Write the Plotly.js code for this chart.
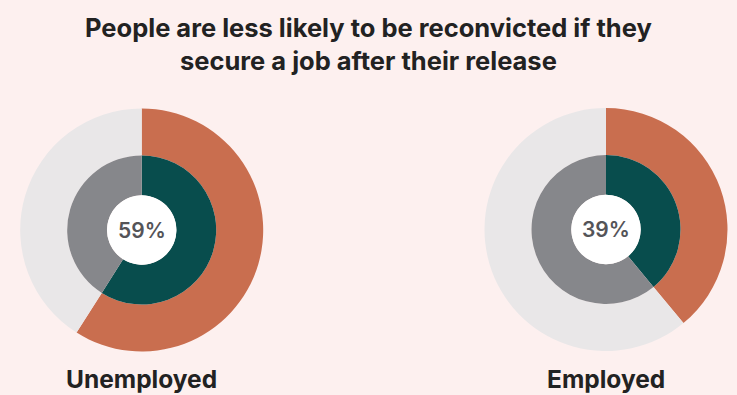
<!DOCTYPE html>
<html>
<head>
<meta charset="utf-8">
<script src="https://cdn.plot.ly/plotly-3.0.1.min.js"></script>
<style>
html,body{margin:0;padding:0;background:#FDF0EF;}
#chart{width:737px;height:395px;}
</style>
</head>
<body>
<div id="chart"></div>
<script>
// Data
const groups = ['Unemployed', 'Employed'];
const outerPct = [59, 39];   // outer ring share (%)
const innerPct = [59, 39];   // inner ring share (%)
const centerLabels = ['59%', '39%'];
const chartTitle = 'People are less likely to be reconvicted if they<br>secure a job after their release';

// Layout geometry (pixels)
const W = 737, H = 395;
const centers = [[141.7, 230], [606, 229.5]];
const rOuter = 121.5, rInner = 74.5, rHole = 34.7;

const C = {
  bg: '#FDF0EF', orange: '#C96E4F', lightgray: '#E9E7E8',
  teal: '#084D4D', gray: '#86878B', white: '#FFFFFF'
};

function domainFor(c, r) {
  return {
    x: [(c[0] - r) / W, (c[0] + r) / W],
    y: [(H - c[1] - r) / H, (H - c[1] + r) / H]
  };
}

const traces = [];
const annotations = [];
groups.forEach((g, i) => {
  const c = centers[i];
  traces.push({
    type: 'pie', values: [outerPct[i], 100 - outerPct[i]],
    labels: ['Reconvicted', 'Not reconvicted'],
    marker: {colors: [C.orange, C.lightgray], line: {width: 0}},
    hole: rInner / rOuter, sort: false, direction: 'clockwise', rotation: 0,
    textinfo: 'none', hoverinfo: 'label+percent', showlegend: false,
    domain: domainFor(c, rOuter)
  });
  traces.push({
    type: 'pie', values: [innerPct[i], 100 - innerPct[i]],
    labels: ['Reconvicted', 'Not reconvicted'],
    marker: {colors: [C.teal, C.gray], line: {width: 0}},
    hole: rHole / rInner, sort: false, direction: 'clockwise', rotation: 0,
    textinfo: 'none', hoverinfo: 'label+percent', showlegend: false,
    domain: domainFor(c, rInner)
  });
  traces.push({
    type: 'pie', values: [1], labels: [''],
    marker: {colors: [C.white], line: {width: 0}},
    sort: false, textinfo: 'none', hoverinfo: 'skip', showlegend: false,
    domain: domainFor(c, rHole)
  });
  annotations.push({
    text: centerLabels[i], x: c[0] / W, y: (H - c[1]) / H,
    xref: 'paper', yref: 'paper', xanchor: 'center', yanchor: 'middle', showarrow: false,
    font: {family: 'Inter, Roboto, sans-serif', size: 21, color: '#545458', weight: 600}
  });
  annotations.push({
    text: '<b>' + g + '</b>', x: c[0] / W, y: 0,
    xref: 'paper', yref: 'paper', xanchor: 'center', yanchor: 'bottom', showarrow: false,
    borderpad: 0,
    font: {family: 'Inter, Roboto, sans-serif', size: 24.5, color: '#222222'}
  });
});

annotations.push({
  text: '<b>' + chartTitle + '</b>', x: 0.5, y: (H - 10) / H,
  xref: 'paper', yref: 'paper', xanchor: 'center', yanchor: 'top', showarrow: false,
  align: 'center',
  font: {family: 'Inter, Roboto, sans-serif', size: 25.5, color: '#222222'}
});

const layout = {
  width: W, height: H,
  margin: {l: 0, r: 0, t: 0, b: 0},
  paper_bgcolor: C.bg, plot_bgcolor: C.bg,
  annotations: annotations
};

Plotly.newPlot('chart', traces, layout, {displayModeBar: false, staticPlot: true});
</script>
</body>
</html>
